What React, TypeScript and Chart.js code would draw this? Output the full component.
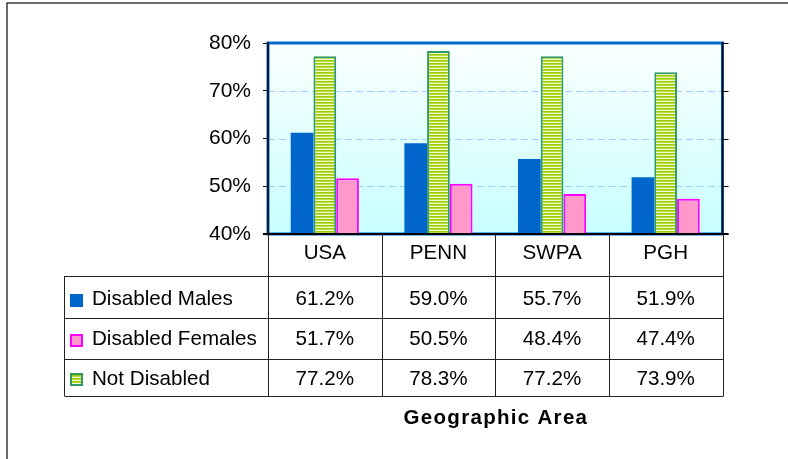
import React, { useEffect, useRef } from "react";
import { Chart, registerables } from "chart.js";
Chart.register(...registerables);

const categories = ["USA", "PENN", "SWPA", "PGH"];
const disabledMales = [61.2, 59.0, 55.7, 51.9];
const disabledFemales = [51.7, 50.5, 48.4, 47.4];
const notDisabled = [77.2, 78.3, 77.2, 73.9];
const yMin = 40;
const yMax = 80;
const yStep = 10;
const axisTitle = "Geographic Area";
const seriesNames = ["Disabled Males", "Disabled Females", "Not Disabled"];

const FONT = '"Liberation Sans", Arial, sans-serif';
const BLUE = "#0066cc";
const PINK = "#ff99cc";
const MAGENTA = "#ff00ff";
const GREEN_BORDER = "#339966";

function makeStripePattern(ctx: CanvasRenderingContext2D): CanvasPattern | string {
  const c = document.createElement("canvas");
  c.width = 4;
  c.height = 3;
  const p = c.getContext("2d");
  if (!p) return "#99cc00";
  p.fillStyle = "#99cc00";
  p.fillRect(0, 0, 4, 1);
  p.fillStyle = "#bcdc40";
  p.fillRect(0, 1, 4, 1);
  p.fillStyle = "#f0f8d0";
  p.fillRect(0, 2, 4, 1);
  return ctx.createPattern(c, "repeat") || "#99cc00";
}

export default function App() {
  const ref = useRef<HTMLCanvasElement | null>(null);

  useEffect(() => {
    const canvas = ref.current;
    if (!canvas) return;
    const ctx0 = canvas.getContext("2d");
    if (!ctx0) return;
    const stripe = makeStripePattern(ctx0);

    const rowTops = [276, 318.3, 358.7];
    const tableBottom = 396;
    const tableLeft = 64.5;

    const extras = {
      id: "extras",
      beforeDraw(chart: any) {
        const { ctx, chartArea: a } = chart;
        ctx.save();
        ctx.fillStyle = "#fff";
        ctx.fillRect(0, 0, chart.width, chart.height);
        ctx.strokeStyle = "#3a3a3a";
        ctx.lineWidth = 1.5;
        ctx.beginPath();
        ctx.moveTo(7, 470);
        ctx.lineTo(7, 3);
        ctx.lineTo(800, 3);
        ctx.stroke();
        const g = ctx.createLinearGradient(0, a.top, 0, a.bottom);
        g.addColorStop(0, "#fbffff");
        g.addColorStop(1, "#c8ffff");
        ctx.fillStyle = g;
        ctx.fillRect(a.left, a.top, a.right - a.left, a.bottom - a.top);
        ctx.restore();
      },
      beforeDatasetsDraw(chart: any) {
        const { ctx, chartArea: a, scales } = chart;
        const y = scales.y;
        ctx.save();
        ctx.strokeStyle = "#a0d0ff";
        ctx.lineWidth = 1;
        ctx.setLineDash([7, 4]);
        for (let v = yMin + yStep; v < yMax; v += yStep) {
          const py = Math.round(y.getPixelForValue(v)) + 0.5;
          ctx.beginPath();
          ctx.moveTo(a.left, py);
          ctx.lineTo(a.right, py);
          ctx.stroke();
        }
        ctx.setLineDash([]);
        ctx.strokeStyle = BLUE;
        ctx.lineWidth = 3;
        ctx.strokeRect(a.left, a.top, a.right - a.left, a.bottom - a.top);
        ctx.restore();
      },
      afterDatasetsDraw(chart: any) {
        const { ctx, chartArea: a, scales } = chart;
        const y = scales.y;
        ctx.save();
        ctx.strokeStyle = "#000";
        ctx.lineWidth = 1.5;
        ctx.beginPath();
        ctx.moveTo(a.left, a.top - 1);
        ctx.lineTo(a.left, a.bottom);
        ctx.moveTo(a.right, a.top - 1);
        ctx.lineTo(a.right, a.bottom);
        ctx.stroke();
        ctx.lineWidth = 1;
        for (let v = yMin; v <= yMax; v += yStep) {
          const py = Math.round(y.getPixelForValue(v)) + 0.5;
          ctx.beginPath();
          ctx.moveTo(a.right, py);
          ctx.lineTo(a.right + 6, py);
          ctx.stroke();
        }
        ctx.lineWidth = 2;
        ctx.beginPath();
        ctx.moveTo(a.left - 5, a.bottom);
        ctx.lineTo(a.right + 6, a.bottom);
        ctx.stroke();
        ctx.restore();
      },
      afterDraw(chart: any) {
        const { ctx, chartArea: a, scales } = chart;
        const x = scales.x;
        const colW = x.getPixelForValue(1) - x.getPixelForValue(0);
        const bounds = categories.map((_, i) => x.getPixelForValue(i) - colW / 2);
        bounds.push(x.getPixelForValue(categories.length - 1) + colW / 2);
        ctx.save();
        ctx.strokeStyle = "#222";
        ctx.lineWidth = 1;
        ctx.beginPath();
        bounds.forEach((bx: number) => {
          const px = Math.round(bx) + 0.5;
          ctx.moveTo(px, a.bottom);
          ctx.lineTo(px, tableBottom);
        });
        ctx.moveTo(tableLeft, rowTops[0]);
        ctx.lineTo(tableLeft, tableBottom);
        [...rowTops, tableBottom].forEach((ry) => {
          const py = Math.round(ry) + 0.5;
          ctx.moveTo(tableLeft, py);
          ctx.lineTo(Math.round(bounds[bounds.length - 1]) + 0.5, py);
        });
        ctx.stroke();

        ctx.fillStyle = "#000";
        ctx.font = `20.6px ${FONT}`;
        ctx.textAlign = "center";
        ctx.textBaseline = "middle";
        categories.forEach((c, i) => {
          ctx.fillText(c, x.getPixelForValue(i), 253);
        });
        const rows = [disabledMales, disabledFemales, notDisabled];
        const rowMid = [299.5, 339.5, 379];
        rows.forEach((vals, r) => {
          vals.forEach((v, i) => {
            ctx.fillText(v.toFixed(1) + "%", x.getPixelForValue(i), rowMid[r]);
          });
        });
        ctx.textAlign = "left";
        seriesNames.forEach((n, r) => {
          const my = rowMid[r];
          const sx = 70.5, sy = Math.round(my - 6) + 0.5, s = 12;
          if (r === 0) {
            ctx.fillStyle = BLUE;
            ctx.fillRect(sx - 0.5, sy - 0.5, s + 1, s + 1);
          } else if (r === 1) {
            ctx.fillStyle = PINK;
            ctx.fillRect(sx, sy, s, s);
            ctx.strokeStyle = MAGENTA;
            ctx.lineWidth = 2;
            ctx.strokeRect(sx + 0.5, sy + 0.5, s - 1, s - 1);
          } else {
            ctx.fillStyle = stripe;
            ctx.fillRect(sx, sy, s, s);
            ctx.strokeStyle = GREEN_BORDER;
            ctx.lineWidth = 2;
            ctx.strokeRect(sx + 0.5, sy + 0.5, s - 1, s - 1);
          }
          ctx.fillStyle = "#000";
          ctx.fillText(n, 92, my);
        });
        ctx.font = `bold 20.5px ${FONT}`;
        ctx.textAlign = "center";
        (ctx as any).letterSpacing = "1.3px";
        ctx.fillText(axisTitle, (a.left + a.right) / 2 + 0.7, 418);
        ctx.restore();
      },
    };

    const chart = new Chart(canvas, {
      type: "bar",
      data: {
        labels: categories,
        datasets: [
          {
            label: seriesNames[0],
            data: disabledMales,
            backgroundColor: BLUE,
            borderWidth: 0,
          },
          {
            label: seriesNames[2],
            data: notDisabled,
            backgroundColor: stripe as any,
            borderColor: GREEN_BORDER,
            borderWidth: 2,
          },
          {
            label: seriesNames[1],
            data: disabledFemales,
            backgroundColor: PINK,
            borderColor: MAGENTA,
            borderWidth: 2,
          },
        ],
      },
      options: {
        animation: false,
        responsive: false,
        maintainAspectRatio: false,
        devicePixelRatio: 1,
        layout: { padding: { left: 0, top: 43, right: 65.5, bottom: 225 } },
        datasets: { bar: { categoryPercentage: 0.6, barPercentage: 1.0 } } as any,
        plugins: { legend: { display: false }, tooltip: { enabled: false }, title: { display: false } },
        scales: {
          x: { display: false },
          y: {
            min: yMin,
            max: yMax,
            ticks: {
              stepSize: yStep,
              callback: (v: any) => v + "%",
              color: "#000",
              font: { family: FONT, size: 21 },
              padding: 12,
            },
            grid: { drawOnChartArea: false, drawTicks: true, tickLength: 5, color: "#000", lineWidth: 1 },
            border: { display: false },
            afterFit: (scale: any) => {
              scale.width = 268;
            },
          },
        },
      },
      plugins: [extras],
    });
    return () => chart.destroy();
  }, []);

  return (
    <div style={{ position: "absolute", left: 0, top: 0, width: 788, height: 459 }}>
      <canvas ref={ref} width={788} height={459} style={{ width: 788, height: 459, display: "block" }} />
    </div>
  );
}
